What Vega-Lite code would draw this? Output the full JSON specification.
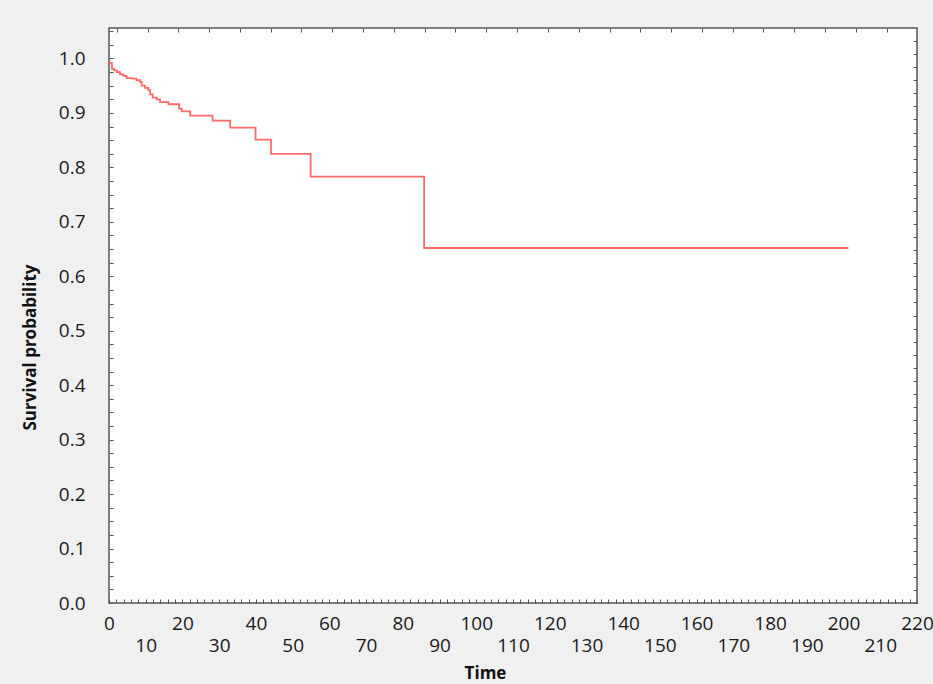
{
  "$schema": "https://vega.github.io/schema/vega-lite/v6.json",
  "width": 808,
  "height": 575,
  "autosize": "none",
  "padding": {"left": 109, "top": 28, "right": 16, "bottom": 81},
  "background": "#f0f0f0",
  "view": {"stroke": "#555555", "strokeWidth": 1.5, "fill": "white"},
  "config": {
    "font": "Open Sans",
    "axis": {"domain": false, "grid": false, "tickColor": "#555555", "tickWidth": 1, "labelColor": "#1a1a1a", "titleColor": "#111111"}
  },
  "data": {
    "values": [
      {"time": 0, "survival": 0.992},
      {"time": 0.8, "survival": 0.981},
      {"time": 1.4, "survival": 0.978},
      {"time": 2.1, "survival": 0.975},
      {"time": 3.0, "survival": 0.971},
      {"time": 3.9, "survival": 0.968},
      {"time": 4.8, "survival": 0.964},
      {"time": 6.2, "survival": 0.963},
      {"time": 7.5, "survival": 0.960},
      {"time": 8.4, "survival": 0.957},
      {"time": 8.9, "survival": 0.950},
      {"time": 9.8, "survival": 0.946},
      {"time": 10.7, "survival": 0.942},
      {"time": 11.2, "survival": 0.934},
      {"time": 11.9, "survival": 0.928},
      {"time": 13.0, "survival": 0.925},
      {"time": 13.9, "survival": 0.920},
      {"time": 16.2, "survival": 0.916},
      {"time": 19.1, "survival": 0.908},
      {"time": 19.8, "survival": 0.903},
      {"time": 22.1, "survival": 0.895},
      {"time": 28.2, "survival": 0.886},
      {"time": 33.0, "survival": 0.873},
      {"time": 39.9, "survival": 0.851},
      {"time": 44.1, "survival": 0.825},
      {"time": 54.9, "survival": 0.783},
      {"time": 85.8, "survival": 0.652},
      {"time": 201.3, "survival": 0.652}
    ]
  },
  "layer": [
    {
      "mark": {"type": "line", "interpolate": "step-after", "color": "#ff6b6b", "strokeWidth": 1.8},
      "encoding": {
        "x": {
          "field": "time", "type": "quantitative",
          "scale": {"domain": [0, 220], "nice": false, "zero": false},
          "axis": {
            "orient": "bottom",
            "values": [0,2,4,6,8,10,12,14,16,18,20,22,24,26,28,30,32,34,36,38,40,42,44,46,48,50,52,54,56,58,60,62,64,66,68,70,72,74,76,78,80,82,84,86,88,90,92,94,96,98,100,102,104,106,108,110,112,114,116,118,120,122,124,126,128,130,132,134,136,138,140,142,144,146,148,150,152,154,156,158,160,162,164,166,168,170,172,174,176,178,180,182,184,186,188,190,192,194,196,198,200,202,204,206,208,210,212,214,216,218,220],
            "labelExpr": "datum.value % 10 === 0 ? datum.label : ''",
            "tickSize": -4,
            "labelPadding": {"condition": {"test": "datum.value % 20 === 10", "value": 46}, "value": 24},
            "labelBaseline": "middle",
            "labelFontSize": 19,
            "labelOverlap": false,
            "labelFlush": false,
            "title": "Time",
            "titleFontSize": 17,
            "titleFontWeight": "bold",
            "titleX": 376,
            "titleY": 70,
            "titleAlign": "center",
            "titleBaseline": "middle"
          }
        },
        "y": {
          "field": "survival", "type": "quantitative",
          "scale": {"domain": [0, 1.056], "nice": false, "zero": false},
          "axis": {
            "orient": "left",
            "values": [0,0.025,0.05,0.075,0.1,0.125,0.15,0.175,0.2,0.225,0.25,0.275,0.3,0.325,0.35,0.375,0.4,0.425,0.45,0.475,0.5,0.525,0.55,0.575,0.6,0.625,0.65,0.675,0.7,0.725,0.75,0.775,0.8,0.825,0.85,0.875,0.9,0.925,0.95,0.975,1.0,1.025,1.05],
            "format": ".1f",
            "labelExpr": "round(datum.value * 1000) % 100 === 0 ? datum.label : ''",
            "tickSize": -4,
            "labelPadding": 28,
            "labelFontSize": 19,
            "labelOverlap": false,
            "labelFlush": false,
            "title": "Survival probability",
            "titleFontSize": 17,
            "titleFontWeight": "bold",
            "titleX": -79,
            "titleY": 319,
            "titleAlign": "center",
            "titleBaseline": "middle",
            "titleAngle": -90
          }
        }
      }
    },
    {
      "mark": {"type": "line", "interpolate": "step-after", "strokeOpacity": 0},
      "encoding": {
        "x": {
          "field": "time", "type": "quantitative",
          "axis": {
            "orient": "top",
            "values": [2.1,10.5,18.9,27.3,35.6,44.0,52.4,60.8,69.2,77.6,86.0,94.3,102.7,111.1,119.5,127.9,136.3,144.7,153.0,161.4,169.8,178.2,186.6,195.0,203.4,211.7],
            "labels": false,
            "tickSize": -4,
            "title": null
          }
        },
        "y": {
          "field": "survival", "type": "quantitative",
          "axis": {
            "orient": "right",
            "values": [0,0.024,0.048,0.072,0.096,0.12,0.144,0.168,0.192,0.216,0.24,0.264,0.288,0.312,0.336,0.36,0.384,0.408,0.432,0.456,0.48,0.504,0.528,0.552,0.576,0.6,0.624,0.648,0.672,0.696,0.72,0.744,0.768,0.792,0.816,0.84,0.864,0.888,0.912,0.936,0.96,0.984,1.008,1.032],
            "labels": false,
            "tickSize": -4,
            "title": null
          }
        }
      }
    }
  ],
  "resolve": {"axis": {"x": "independent", "y": "independent"}}
}
